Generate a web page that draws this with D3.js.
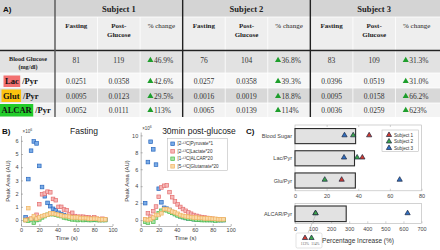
<!DOCTYPE html>
<html lang="en">
<head>
<meta charset="utf-8">
<title>Metabolite ratios - fasting vs post-glucose</title>
<script src="https://cdn.jsdelivr.net/npm/d3@7"></script>
<style>
  body { margin: 0; background: #fff; }
  svg { display: block; }
</style>
</head>
<body>
<div id="chart"></div>
<script>
// ---------- A) table values ----------
var subjects = ["Subject 1", "Subject 2", "Subject 3"];
var colHeads = [["Fasting"], ["Post-", "Glucose"], ["% change"]];
var rowNames = ["Blood Glucose", "Lac", "Glut", "ALCAR"];
// one row per metric, one entry per subject
var fasting = [["81", "76", "83"], ["0.0251", "0.0257", "0.0396"], ["0.0095", "0.0016", "0.0095"], ["0.0052", "0.0065", "0.0036"]];
var postGlucose = [["119", "104", "109"], ["0.0358", "0.0358", "0.0519"], ["0.0123", "0.0019", "0.0158"], ["0.0111", "0.0139", "0.0259"]];
var pctChange = [["46.9%", "36.8%", "31.3%"], ["42.6%", "39.3%", "31.0%"], ["29.5%", "18.8%", "66.2%"], ["113%", "114%", "623%"]];

// ---------- B) dynamic curves (x10^6) ----------
var times = [5, 8, 11, 14, 17, 20, 23, 26, 29, 32, 35, 38, 41, 44, 47, 50, 53, 56, 59, 62, 65, 68, 71, 74, 77, 80, 83, 86, 89, 92];
var fastPyr = [0.2, 3.1, 5.25, 5.95, 5.8, 4.1, 2.5, 1.8, 1.3, 1.05, 0.85, 0.75, 0.55, 0.45, 0.35, 0.3, 0.25, 0.2, 0.15, 0.12, 0.1, 0.08, 0.05, 0.05, 0.04, 0.03, 0.02, 0.02, 0.01, 0.01];
var fastLac = [0.0, 0.05, 0.1, 0.15, 0.4, 1.2, 1.95, 2.0, 2.15, 2.1, 1.6, 1.5, 1.0, 1.0, 0.8, 0.75, 0.45, 0.55, 0.3, 0.25, 0.25, 0.25, 0.2, 0.2, 0.15, 0.2, 0.1, 0.0, 0.1, 0.05];
var fastAlcar = [0.0, -0.05, 0.05, -0.2, 0.0, 0.05, 0.2, 0.3, 0.4, 0.45, 0.45, 0.4, 0.35, 0.3, 0.2, 0.15, 0.1, 0.05, 0.05, 0.0, 0.05, 0.0, 0.05, 0.0, 0.0, 0.05, 0.0, 0.0, 0.0, 0.0];
var fastGlu = [0.0, 0.9, 0.1, 0.3, 0.1, 0.2, 0.3, 0.35, 0.4, 0.5, 0.5, 0.45, 0.4, 0.35, 0.3, 0.3, 0.25, 0.2, 0.2, 0.2, 0.15, 0.15, 0.15, 0.1, 0.1, 0.1, 0.1, 0.05, 0.05, 0.05];
var postPyr = [2.0, 6.85, 9.25, 8.35, 6.55, 3.7, 2.1, 1.45, 1.35, 1.2, 0.95, 0.75, 0.6, 0.45, 0.35, 0.25, 0.2, 0.15, 0.1, 0.08, 0.05, 0.05, 0.03, 0.02, 0.02, 0.01, 0.01, 0.0, 0.0, 0.0];
var postLac = [0.05, 0.8, 0.4, 1.05, 1.6, 2.75, 3.85, 4.05, 4.1, 3.3, 2.7, 2.2, 1.85, 1.55, 1.3, 1.1, 0.9, 0.75, 0.6, 0.5, 0.4, 0.35, 0.3, 0.25, 0.2, 0.15, 0.1, 0.1, 0.05, 0.05];
var postAlcar = [-0.2, -0.3, 0.1, -0.2, 0.3, 0.8, 1.1, 1.2, 1.15, 1.0, 0.85, 0.7, 0.55, 0.45, 0.35, 0.25, 0.2, 0.15, 0.1, 0.05, 0.05, 0.0, 0.0, 0.0, 0.0, 0.0, -0.05, 0.0, 0.0, 0.0];
var postGlu = [0.1, 0.0, 0.1, 0.3, 0.6, 0.6, 0.8, 1.3, 1.3, 1.2, 1.0, 0.9, 0.75, 0.6, 0.5, 0.45, 0.4, 0.35, 0.3, 0.3, 0.25, 0.25, 0.2, 0.2, 0.2, 0.15, 0.15, 0.1, 0.1, 0.1];
var seriesNames = ["[2-\u00b9\u00b3C]Pyruvate*1", "[2-\u00b9\u00b3C]Lactate*20", "[1-\u00b9\u00b3C]ALCAR*20", "[5-\u00b9\u00b3C]Glutamate*20"];

// ---------- C) percentage increase ----------
var ratioCats = ["Blood Sugar", "Lac/Pyr", "Glu/Pyr"];
var subj1Inc = [46.9, 42.6, 29.5];
var subj2Inc = [36.8, 39.3, 18.8];
var subj3Inc = [31.3, 31.0, 66.2];
var alcarInc = [113, 114, 623];   // subject 1, 2, 3
var legendNames = ["Subject 1", "Subject 2", "Subject 3"];

var serif = "'Liberation Serif', 'DejaVu Serif', serif";
var sans = "'Liberation Sans', Arial, sans-serif";

var svg = d3.select("#chart").append("svg")
  .attr("width", 440).attr("height", 250)
  .style("font-family", sans);

// ================= A) table =================
var rowY = [0, 17, 51, 73, 88, 103, 117];
var rowFill = ["#d4d4d4", "#eeeeee", "#e2e2e2", "#f7f7f7", "#d8d8d8", "#f3f3f3"];
var subjX = d3.scaleBand().domain(subjects).range([55, 438]);
var colX = d3.scaleBand().domain([0, 1, 2]).range([0, subjX.bandwidth()]);
function colCenter(s, k) { return subjX(subjects[s]) + colX(k) + colX.bandwidth() / 2; }

var tbl = svg.append("g");
rowFill.forEach(function(f, i) {
  tbl.append("rect").attr("x", 0).attr("y", rowY[i]).attr("width", 440)
    .attr("height", rowY[i + 1] - rowY[i]).attr("fill", f);
  if (i > 0) tbl.append("line").attr("x1", 0).attr("x2", 440)
    .attr("y1", rowY[i]).attr("y2", rowY[i]).attr("stroke", "#fff").attr("stroke-width", 0.8);
});
// thin cell separators
subjects.forEach(function(s, si) {
  [1, 2].forEach(function(k) {
    var x = subjX(s) + colX(k);
    tbl.append("line").attr("x1", x).attr("x2", x).attr("y1", 17).attr("y2", 117)
      .attr("stroke", "#fff").attr("stroke-width", 0.8);
  });
});
// heavy rules
tbl.append("line").attr("x1", 0).attr("x2", 440).attr("y1", 50.5).attr("y2", 50.5)
  .attr("stroke", "#222").attr("stroke-width", 1.4);
[55].concat(subjects.slice(1).map(function(s) { return subjX(s); })).forEach(function(x, i) {
  tbl.append("line").attr("x1", x).attr("x2", x).attr("y1", 0).attr("y2", 117)
    .attr("stroke", i === 0 ? "#555" : "#222").attr("stroke-width", 1.4);
});

tbl.append("text").attr("x", 3).attr("y", 11.5).text("A)")
  .attr("font-size", 8).attr("font-weight", "bold").attr("fill", "#111");

subjects.forEach(function(s, si) {
  tbl.append("text").attr("x", subjX(s) + subjX.bandwidth() / 2).attr("y", 11.5)
    .attr("text-anchor", "middle").attr("font-family", serif).attr("font-weight", "bold")
    .attr("font-size", 8.5).attr("fill", "#222").text(s);
  colHeads.forEach(function(lines, k) {
    lines.forEach(function(ln, li) {
      tbl.append("text").attr("x", colCenter(si, k)).attr("y", 27.5 + li * 9.5)
        .attr("text-anchor", "middle").attr("font-family", serif)
        .attr("font-weight", k === 2 ? "normal" : "bold")
        .attr("font-size", 7).attr("fill", "#222").text(ln);
    });
  });
});

// row labels
var base = [62.5, 83.5, 98.5, 112.5];
tbl.append("text").attr("x", 28).attr("y", 60.5).attr("text-anchor", "middle")
  .attr("font-family", serif).attr("font-weight", "bold").attr("font-size", 6.2)
  .attr("fill", "#222").text(rowNames[0]);
tbl.append("text").attr("x", 28).attr("y", 68.5).attr("text-anchor", "middle")
  .attr("font-family", serif).attr("font-weight", "bold").attr("font-size", 6.2)
  .attr("fill", "#222").text("(mg/dl)");
var hiColor = { "Lac": "#f27070", "Glut": "#fbc20f", "ALCAR": "#22cc2a" };
var hiX = { "Lac": 5, "Glut": 3, "ALCAR": 1.5 };
var hiBox = { "Lac": [75.5, 87], "Glut": [89.5, 102], "ALCAR": [104, 116.5] };
rowNames.slice(1).forEach(function(name, i) {
  var y = base[i + 1];
  var hr = tbl.append("rect").attr("fill", hiColor[name]);
  var t = tbl.append("text").attr("x", hiX[name]).attr("y", y)
    .attr("font-family", serif).attr("font-weight", "bold").attr("font-size", 8.5)
    .attr("fill", "#111").text(name);
  var w = t.node().getComputedTextLength();
  hr.attr("x", hiX[name] - 1.5).attr("width", w + 3)
    .attr("y", hiBox[name][0]).attr("height", hiBox[name][1] - hiBox[name][0]);
  tbl.append("text").attr("x", hiX[name] + w + 3.5).attr("y", y)
    .attr("font-family", serif).attr("font-weight", "bold").attr("font-size", 8.5)
    .attr("fill", "#111").text("/Pyr");
});

// cell values
var tri = d3.symbol().type(d3.symbolTriangle);
rowNames.forEach(function(r, ri) {
  subjects.forEach(function(s, si) {
    [fasting, postGlucose].forEach(function(src, k) {
      tbl.append("text").attr("x", colCenter(si, k)).attr("y", base[ri])
        .attr("text-anchor", "middle").attr("font-family", serif)
        .attr("font-size", 7.5).attr("fill", "#333").text(src[ri][si]);
    });
    var cx = colCenter(si, 2);
    tbl.append("path").attr("d", tri.size(16)())
      .attr("transform", "translate(" + (cx - 11) + "," + (base[ri] - 2.3) + ")")
      .attr("fill", "#1e9e2c");
    tbl.append("text").attr("x", cx - 7.5).attr("y", base[ri])
      .attr("font-family", serif).attr("font-size", 7.5).attr("fill", "#333")
      .text(pctChange[ri][si]);
  });
});

// ================= B) scatter plots =================
var seriesStyle = [
  { fill: "#79abe6", stroke: "#2a68bf" },
  { fill: "#f6b9b9", stroke: "#e46f6f" },
  { fill: "#a6e3a6", stroke: "#4dbb4d" },
  { fill: "#fadaa8", stroke: "#f0b463" }
];
var axisColor = "#8c8c8c";

svg.append("text").attr("x", 2).attr("y", 134).text("B)")
  .attr("font-size", 8).attr("font-weight", "bold").attr("fill", "#111");

function scatterPlot(cfg) {
  var g = svg.append("g");
  var x = d3.scaleLinear().domain([0, 100]).range(cfg.xr);
  var y = d3.scaleLinear().domain(cfg.yd).range([226, cfg.top]);

  var xAxis = d3.axisBottom(x).tickValues([0, 20, 40, 60, 80, 100])
    .tickSizeInner(-2).tickSizeOuter(0).tickPadding(2.5).tickFormat(d3.format("d"));
  var yAxis = d3.axisLeft(y).tickValues(cfg.yticks)
    .tickSizeInner(-2).tickSizeOuter(0).tickPadding(2.5).tickFormat(d3.format("d"));

  var gx = g.append("g").attr("transform", "translate(0,226)").call(xAxis);
  var gy = g.append("g").attr("transform", "translate(" + cfg.xr[0] + ",0)").call(yAxis);
  [gx, gy].forEach(function(a) {
    a.selectAll("path,line").attr("stroke", axisColor).attr("stroke-width", 0.6);
    a.selectAll("text").attr("font-size", 5.5).attr("fill", "#444").attr("font-family", sans);
  });

  // x10^6 exponent
  var ex = g.append("text").attr("x", cfg.xr[0] + 1.5).attr("y", cfg.top - 2.5)
    .attr("font-size", 4.5).attr("fill", "#444");
  ex.append("tspan").text("\u00d710");
  ex.append("tspan").attr("dy", -1.8).attr("font-size", 3.5).text("6");

  g.append("text").attr("x", (cfg.xr[0] + cfg.xr[1]) / 2).attr("y", 240)
    .attr("text-anchor", "middle").attr("font-size", 6).attr("fill", "#333").text("Time (s)");
  g.append("text").attr("transform", "translate(" + cfg.ylabX + ",181) rotate(-90)")
    .attr("text-anchor", "middle").attr("font-size", 6).attr("fill", "#333").text("Peak Area (AU)");
  g.append("text").attr("x", cfg.titleX).attr("y", 134).attr("text-anchor", "middle")
    .attr("font-size", 8.5).attr("fill", "#222").text(cfg.title);

  cfg.series.forEach(function(vals, si) {
    g.append("g").selectAll("rect").data(vals).join("rect")
      .attr("x", function(d, i) { return x(times[i]) - 1.8; })
      .attr("y", function(d) { return y(d) - 1.8; })
      .attr("width", 3.6).attr("height", 3.6)
      .attr("fill", seriesStyle[si].fill).attr("stroke", seriesStyle[si].stroke)
      .attr("stroke-width", 0.7);
  });
  return g;
}

scatterPlot({ xr: [21, 112.5], yd: [-0.45, 6.4], top: 135.5, yticks: [0, 1, 2, 3, 4, 5, 6],
  ylabX: 10, title: "Fasting", titleX: 84,
  series: [fastPyr, fastLac, fastAlcar, fastGlu] });
scatterPlot({ xr: [140.7, 230.7], yd: [-0.7, 10.4], top: 132, yticks: [0, 2, 4, 6, 8, 10],
  ylabX: 128.5, title: "30min post-glucose", titleX: 199,
  series: [postPyr, postLac, postAlcar, postGlu] });

// legend for B
var lgB = svg.append("g");
lgB.append("rect").attr("x", 167.5).attr("y", 138.5).attr("width", 60).attr("height", 32)
  .attr("fill", "#fff").attr("stroke", "#b0b0b0").attr("stroke-width", 0.5);
seriesNames.forEach(function(n, i) {
  var yy = 143.8 + i * 7.5;
  lgB.append("rect").attr("x", 170.8).attr("y", yy - 1.8).attr("width", 3.6).attr("height", 3.6)
    .attr("fill", seriesStyle[i].fill).attr("stroke", seriesStyle[i].stroke).attr("stroke-width", 0.7);
  lgB.append("text").attr("x", 177.5).attr("y", yy + 1.6).attr("font-size", 4.6)
    .attr("fill", "#333").text(n);
});

// ================= C) percentage increase =================
var subjColors = ["#d23a30", "#3aa64a", "#2f6fc2"];
var triSym = d3.symbol().type(d3.symbolTriangle).size(12);
var boxColor = "#b4b4b4";

svg.append("text").attr("x", 246).attr("y", 134).text("C)")
  .attr("font-size", 8).attr("font-weight", "bold").attr("fill", "#111");

function drawTri(g, x, y, c) {
  g.append("path").attr("d", triSym())
    .attr("transform", "translate(" + x + "," + y + ")")
    .attr("fill", c).attr("stroke", "#1c2640").attr("stroke-width", 0.7);
}

// upper axes: blood sugar and ratios
var cUp = svg.append("g");
var xC = d3.scaleLinear().domain([0, 80]).range([295, 421.5]);
var yC = d3.scaleBand().domain(ratioCats).range([125, 191.6]).paddingInner(0.32).paddingOuter(0.16);
cUp.append("rect").attr("x", 295).attr("y", 125).attr("width", 126.5).attr("height", 65.8)
  .attr("fill", "#fff").attr("stroke", boxColor).attr("stroke-width", 0.6);
var xCaxis = d3.axisBottom(xC).tickValues([0, 20, 40, 60, 80]).tickSizeInner(-2).tickSizeOuter(0).tickPadding(3.5);
var gxc = cUp.append("g").attr("transform", "translate(0,190.8)").call(xCaxis);
gxc.select(".domain").remove();
gxc.selectAll("line").attr("stroke", boxColor).attr("stroke-width", 0.6);
gxc.selectAll("text").attr("font-size", 5.5).attr("fill", "#444");
var gxcTop = cUp.append("g").attr("transform", "translate(0,125)")
  .call(d3.axisTop(xC).tickValues([20, 40, 60]).tickSizeInner(-2).tickSizeOuter(0));
gxcTop.select(".domain").remove();
gxcTop.selectAll("text").remove();
gxcTop.selectAll("line").attr("stroke", boxColor).attr("stroke-width", 0.6);

var means = ratioCats.map(function(c, i) { return d3.mean([subj1Inc[i], subj2Inc[i], subj3Inc[i]]); });
cUp.selectAll(".bar").data(means).join("rect")
  .attr("x", xC(0)).attr("y", function(d, i) { return yC(ratioCats[i]); })
  .attr("width", function(d) { return xC(d) - xC(0); }).attr("height", yC.bandwidth())
  .attr("fill", "#e2e2e2").attr("stroke", "#2b2b2b").attr("stroke-width", 1.1);
ratioCats.forEach(function(c, i) {
  var cy = yC(c) + yC.bandwidth() / 2;
  cUp.append("text").attr("x", 292).attr("y", cy + 2).attr("text-anchor", "end")
    .attr("font-size", 5.5).attr("fill", "#444").text(c);
  [subj1Inc, subj2Inc, subj3Inc].forEach(function(arr, s) {
    drawTri(cUp, xC(arr[i]), cy - 0.8, subjColors[s]);
  });
});

// legend for C
cUp.append("rect").attr("x", 382).attr("y", 130).attr("width", 36.5).attr("height", 21.5)
  .attr("fill", "#fff").attr("stroke", "#b0b0b0").attr("stroke-width", 0.5);
legendNames.forEach(function(n, i) {
  var yy = 135 + i * 6.5;
  drawTri(cUp, 389, yy, subjColors[i]);
  cUp.append("text").attr("x", 394).attr("y", yy + 1.7).attr("font-size", 4.6)
    .attr("fill", "#333").text(n);
});

// lower axes: ALCAR
var cLo = svg.append("g");
var xA = d3.scaleLinear().domain([0, 700]).range([295, 421.5]);
cLo.append("rect").attr("x", 295).attr("y", 203.5).attr("width", 126.5).attr("height", 19.8)
  .attr("fill", "#fff").attr("stroke", boxColor).attr("stroke-width", 0.6);
var gxa = cLo.append("g").attr("transform", "translate(0,223.3)")
  .call(d3.axisBottom(xA).tickValues([0, 100, 200, 300, 400, 500, 600, 700]).tickSizeInner(-2).tickSizeOuter(0).tickPadding(3.5));
gxa.select(".domain").remove();
gxa.selectAll("line").attr("stroke", boxColor).attr("stroke-width", 0.6);
gxa.selectAll("text").attr("font-size", 5.5).attr("fill", "#444");

var alcarMean = d3.mean(alcarInc);
cLo.append("rect").attr("x", xA(0)).attr("y", 206).attr("width", xA(alcarMean) - xA(0)).attr("height", 15.6)
  .attr("fill", "#e2e2e2").attr("stroke", "#2b2b2b").attr("stroke-width", 1.1);
cLo.append("text").attr("x", 292).attr("y", 215.5).attr("text-anchor", "end")
  .attr("font-size", 5.5).attr("fill", "#444").text("ALCAR/Pyr");

// callout for overlapping subjects 1 and 2
cLo.append("line").attr("x1", xA(alcarInc[0])).attr("y1", 215.5).attr("x2", 308).attr("y2", 233)
  .attr("stroke", "#a0a0a0").attr("stroke-width", 0.5);
cLo.append("rect").attr("x", 296).attr("y", 233).attr("width", 26).attr("height", 15).attr("rx", 1.5)
  .attr("fill", "#fff").attr("stroke", "#c4c4c4").attr("stroke-width", 0.5);
alcarInc.forEach(function(v, s) {
  drawTri(cLo, xA(v), 213.2, subjColors[s]);
});
[0, 1].forEach(function(s) {
  var cx = 305 + s * 6.5;
  drawTri(cLo, cx, 238, subjColors[s]);
  cLo.append("text").attr("x", cx + s * 4).attr("y", 245).attr("text-anchor", "middle")
    .attr("font-family", serif).attr("font-size", 3.6).attr("fill", "#555")
    .text(alcarInc[s] + "%");
});

cLo.append("text").attr("x", 358).attr("y", 242.5).attr("text-anchor", "middle")
  .attr("font-size", 6.5).attr("fill", "#333").text("Percentage Increase (%)");
</script>
</body>
</html>
